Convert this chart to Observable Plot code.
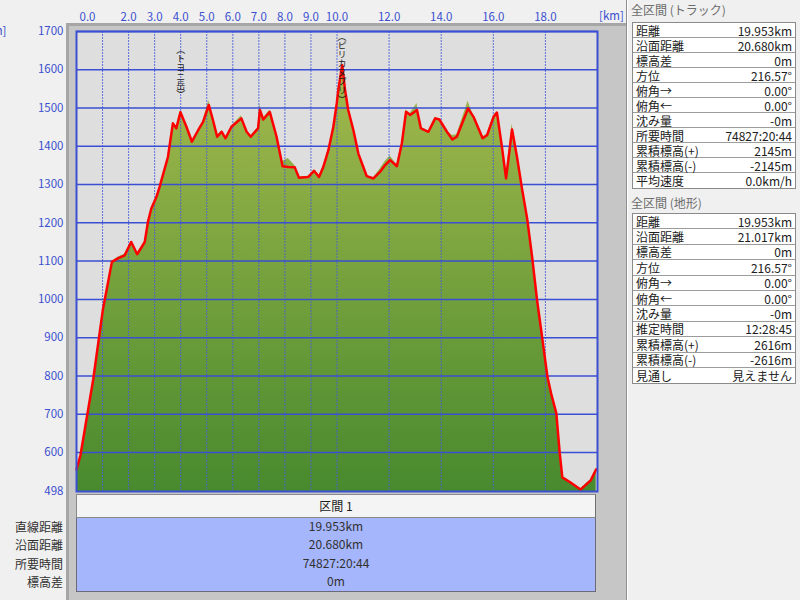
<!DOCTYPE html>
<html>
<head>
<meta charset="utf-8">
<script src="https://cdn.jsdelivr.net/npm/d3@7"></script>
<script src="https://cdn.jsdelivr.net/npm/@observablehq/plot@0.6"></script>
<style>
  html, body { margin: 0; padding: 0; }
  body {
    width: 800px; height: 600px; overflow: hidden; position: relative;
    background: #f0f0f0;
    font-family: "Noto Sans CJK JP", "Noto Sans", sans-serif;
    font-size: 12px; color: #202020;
  }
  .abs { position: absolute; }
  #frame {
    left: 66px; top: 23px; width: 560px; height: 577px;
    background: #c6c6c6; box-sizing: border-box;
    border-left: 3px solid #a6a6a6; border-top: 3px solid #a6a6a6;
  }
  #sep { left: 626px; top: 0; width: 1px; height: 600px; background: #8e8e8e; border-right: 1px solid #ffffff; }
  #chart { left: 0; top: 0; }
  .unit { color: #3b4fcf; font-size: 11.5px; line-height: 14px; white-space: nowrap; }
  .hdr { left: 631px; color: #6c6c6c; font-size: 12px; line-height: 14px; white-space: nowrap; }
  .tbl {
    left: 632px; width: 164px; box-sizing: border-box;
    border: 1px solid #8a8a8a; background: #ffffff;
  }
  .row {
    display: flex; justify-content: space-between; align-items: center;
    box-sizing: border-box; border-bottom: 1px solid #9c9c9c;
    padding: 0 3px 0 3px; font-size: 12px; line-height: 13px; white-space: nowrap;
  }
  .row:last-child { border-bottom: none; }
  #secHead {
    left: 76px; top: 494px; width: 520px; height: 24px; box-sizing: border-box;
    background: #f4f4f4; border: 1px solid #8a8a8a; border-right-color: #707070;
    text-align: center; line-height: 22px; font-size: 12px; white-space: nowrap;
  }
  #secBody {
    left: 76px; top: 518px; width: 520px; height: 74px; box-sizing: border-box;
    background: #a6b6fd; border: 1px solid #6a6a7a; border-top: none;
  }
  .secVal { position: absolute; left: 0; width: 100%; text-align: center; font-size: 12px; line-height: 14px; color: #303030; white-space: nowrap; }
  .secLab { position: absolute; left: 0; width: 63px; text-align: right; font-size: 12px; line-height: 14px; color: #303030; white-space: nowrap; }
</style>
</head>
<body>
<div id="frame" class="abs"></div>
<div id="sep" class="abs"></div>
<div id="chart" class="abs"></div>
<div class="abs unit" style="left:-12px; top:23px;">[m]</div>
<div class="abs unit" style="left:599px; top:8px;">[km]</div>
<div id="secHead" class="abs"></div>
<div id="secBody" class="abs"></div>
<div id="secLabels" class="abs" style="left:0;top:0;width:800px;"></div>
<div id="panel" class="abs" style="left:0;top:0;width:800px;"></div>

<script>
// Track profile (red line): distance along the route [km] and elevation [m]
const trackKm = [0, 0.15, 0.64, 1.01, 1.36, 1.59, 1.85, 2.10, 2.33, 2.62, 2.74, 2.87, 3.07, 3.19, 3.51, 3.70,
  3.83, 3.99, 4.22, 4.43, 4.67, 4.86, 5.08, 5.24, 5.40, 5.57, 5.72, 5.95, 6.33, 6.53, 6.69, 6.97, 7.04, 7.17,
  7.42, 7.68, 7.91, 8.13, 8.38, 8.54, 8.90, 9.12, 9.31, 9.47, 9.67, 9.86, 9.99, 10.05, 10.20, 10.31, 10.43,
  10.63, 10.82, 11.01, 11.14, 11.40, 11.65, 11.85, 12.04, 12.30, 12.49, 12.65, 12.81, 13.07, 13.22, 13.51,
  13.77, 13.93, 14.22, 14.43, 14.60, 15.03, 15.24, 15.59, 15.76, 16.01, 16.14, 16.33, 16.49, 16.72, 16.91,
  17.10, 17.30, 17.49, 17.68, 17.88, 18.08, 18.22, 18.42, 18.55, 18.65, 18.95, 19.35, 19.74, 19.95];
const trackElev = [556, 592, 790, 972, 1098, 1107, 1115, 1150, 1118, 1150, 1202, 1237, 1268, 1294, 1372, 1460,
  1447, 1489, 1451, 1412, 1442, 1464, 1508, 1468, 1425, 1438, 1421, 1451, 1473, 1438, 1425, 1447, 1495, 1470,
  1490, 1425, 1348, 1346, 1345, 1318, 1320, 1336, 1320, 1345, 1390, 1451, 1512, 1547, 1612, 1547, 1495,
  1442, 1381, 1346, 1322, 1316, 1333, 1351, 1364, 1348, 1408, 1490, 1482, 1495, 1447, 1438,
  1473, 1470, 1438, 1418, 1425, 1499, 1477, 1421, 1429, 1477, 1488, 1399, 1316, 1444, 1372,
  1290, 1211, 1111, 998, 898, 797, 754, 702, 598, 535, 522, 503, 527, 556];
// Terrain profile (green area) sampled at the same distances
const terrainElev = [556, 592, 790, 972, 1098, 1110, 1118, 1152, 1120, 1150, 1202, 1237, 1268, 1294, 1372, 1462,
  1450, 1492, 1451, 1412, 1442, 1466, 1520, 1470, 1428, 1440, 1423, 1453, 1480, 1440, 1427, 1449, 1510, 1474,
  1494, 1428, 1360, 1368, 1350, 1320, 1322, 1338, 1322, 1347, 1392, 1453, 1514, 1549, 1612, 1549, 1497,
  1444, 1383, 1348, 1324, 1318, 1340, 1360, 1375, 1352, 1410, 1494, 1486, 1512, 1450, 1440,
  1476, 1472, 1440, 1428, 1430, 1518, 1480, 1424, 1432, 1480, 1490, 1402, 1320, 1458, 1376,
  1292, 1213, 1113, 1000, 900, 799, 756, 704, 600, 537, 524, 505, 529, 556];

// Axis ticks and grid
const kmTicks = [0, 2, 3, 4, 5, 6, 7, 8, 9, 10, 12, 14, 16, 18];
const kmGrid = [1, 2, 3, 4, 5, 6, 7, 8, 9, 10, 12, 14, 16, 18];
const elevTicks = [498, 600, 700, 800, 900, 1000, 1100, 1200, 1300, 1400, 1500, 1600, 1700];
const elevGrid = [600, 700, 800, 900, 1000, 1100, 1200, 1300, 1400, 1500, 1600, 1700];

// Summit names shown above the profile
const peakNames = ["︵トヨニ岳︶", "︵ピリカヌプリ︶"];
const peakKm = [4.0, 10.19];

// Summary tables
const trackStatLabels = ["距離", "沿面距離", "標高差", "方位", "俯角→", "俯角←", "沈み量", "所要時間", "累積標高(+)", "累積標高(-)", "平均速度"];
const trackStatValues = ["19.953km", "20.680km", "0m", "216.57°", "0.00°", "0.00°", "-0m", "74827:20:44", "2145m", "-2145m", "0.0km/h"];
const terrainStatLabels = ["距離", "沿面距離", "標高差", "方位", "俯角→", "俯角←", "沈み量", "推定時間", "累積標高(+)", "累積標高(-)", "見通し"];
const terrainStatValues = ["19.953km", "21.017km", "0m", "216.57°", "0.00°", "0.00°", "-0m", "12:28:45", "2616m", "-2616m", "見えません"];
const sectionName = "区間 1";
const sectionLabels = ["直線距離", "沿面距離", "所要時間", "標高差"];
const sectionValues = ["19.953km", "20.680km", "74827:20:44", "0m"];

const track = trackKm.map((km, i) => ({km, elev: trackElev[i]}));
const terrain = trackKm.map((km, i) => ({km, elev: terrainElev[i]}));
const peaks = peakNames.map((name, i) => ({name, km: peakKm[i]}));
const peakLabelDy = [14, 1];

// Vertical gradient for the terrain fill, spanning the whole plot height
function terrainGradient(index, scales) {
  const ns = "http://www.w3.org/2000/svg";
  const defs = document.createElementNS(ns, "defs");
  const grad = document.createElementNS(ns, "linearGradient");
  grad.setAttribute("id", "terrain-fill");
  grad.setAttribute("gradientUnits", "userSpaceOnUse");
  grad.setAttribute("x1", 0);
  grad.setAttribute("x2", 0);
  grad.setAttribute("y1", scales.y(1700));
  grad.setAttribute("y2", scales.y(498));
  [["0", "#abbd4f"], ["1", "#488a2e"]].forEach(([o, c]) => {
    const s = document.createElementNS(ns, "stop");
    s.setAttribute("offset", o);
    s.setAttribute("stop-color", c);
    grad.appendChild(s);
  });
  defs.appendChild(grad);
  return defs;
}

const axisColor = "#3b4fcf";
const gridBlue = "#3a4fd2";

const chart = Plot.plot({
  width: 626,
  height: 500,
  marginLeft: 76,
  marginRight: 29,
  marginTop: 31,
  marginBottom: 9,
  x: {domain: [0, 20]},
  y: {domain: [498, 1700]},
  style: {background: "transparent", fontFamily: "'Noto Sans CJK JP', sans-serif", fontSize: "11.5px", overflow: "visible"},
  marks: [
    Plot.frame({fill: "#dedede"}),
    terrainGradient,
    Plot.areaY(terrain, {x: "km", y1: 498, y2: "elev", fill: "url(#terrain-fill)"}),
    Plot.gridX({ticks: kmGrid, stroke: "#4a5dd8", strokeOpacity: 0.85, strokeWidth: 1, strokeDasharray: "2,1"}),
    Plot.gridY({ticks: elevGrid, stroke: gridBlue, strokeOpacity: 1, strokeWidth: 1.5}),
    Plot.line(track, {x: "km", y: "elev", stroke: "#ff0000", strokeWidth: 2.5, strokeLinejoin: "round"}),
    ...peaks.map((p, i) => Plot.text([p], {
      x: "km", text: "name", frameAnchor: "top", dy: peakLabelDy[i],
      fontSize: 9, fill: "#1a1a1a"
    })),
    Plot.frame({stroke: gridBlue, strokeWidth: 2}),
    Plot.axisY({ticks: elevTicks, tickSize: 0, tickPadding: 13, color: axisColor, label: null, tickFormat: d => String(d)}),
    Plot.axisX({anchor: "top", ticks: kmTicks.filter(d => d > 0), tickSize: 0, tickPadding: 11, color: axisColor, label: null, tickFormat: d3.format(".1f")}),
    Plot.axisX({anchor: "top", ticks: kmTicks.filter(d => d === 0), tickSize: 0, tickPadding: 11, dx: 11, color: axisColor, label: null, tickFormat: d3.format(".1f")})
  ]
});

// Summit names are set in vertical Japanese writing, reading downward from their anchor
d3.select(chart).selectAll('g[aria-label="text"] text')
  .attr("y", null)
  .attr("dy", null)
  .attr("text-anchor", "start")
  .style("writing-mode", "vertical-rl")
  .style("text-orientation", "upright");
document.getElementById("chart").appendChild(chart);

// Section summary below the chart
document.getElementById("secHead").textContent = sectionName;
const secBody = document.getElementById("secBody");
const secLabels = document.getElementById("secLabels");
sectionValues.forEach((v, i) => {
  const top = 1 + i * 18.3;
  const d = document.createElement("div");
  d.className = "secVal";
  d.style.top = top + "px";
  d.textContent = v;
  secBody.appendChild(d);
  const l = document.createElement("div");
  l.className = "secLab";
  l.style.top = (519 + top) + "px";
  l.textContent = sectionLabels[i];
  secLabels.appendChild(l);
});

// Statistics tables on the right
function statTable(title, titleTop, tableTop, rowH, labels, values) {
  const panel = document.getElementById("panel");
  const h = document.createElement("div");
  h.className = "abs hdr";
  h.style.top = titleTop + "px";
  h.textContent = title;
  panel.appendChild(h);
  const t = document.createElement("div");
  t.className = "abs tbl";
  t.style.top = tableTop + "px";
  labels.forEach((lab, i) => {
    const r = document.createElement("div");
    r.className = "row";
    r.style.height = rowH + "px";
    const a = document.createElement("span");
    a.textContent = lab;
    const b = document.createElement("span");
    b.textContent = values[i];
    r.appendChild(a);
    r.appendChild(b);
    t.appendChild(r);
  });
  panel.appendChild(t);
}
statTable("全区間 (トラック)", 3, 22, 15, trackStatLabels, trackStatValues);
statTable("全区間 (地形)", 196, 213, 15.4, terrainStatLabels, terrainStatValues);
</script>
</body>
</html>
